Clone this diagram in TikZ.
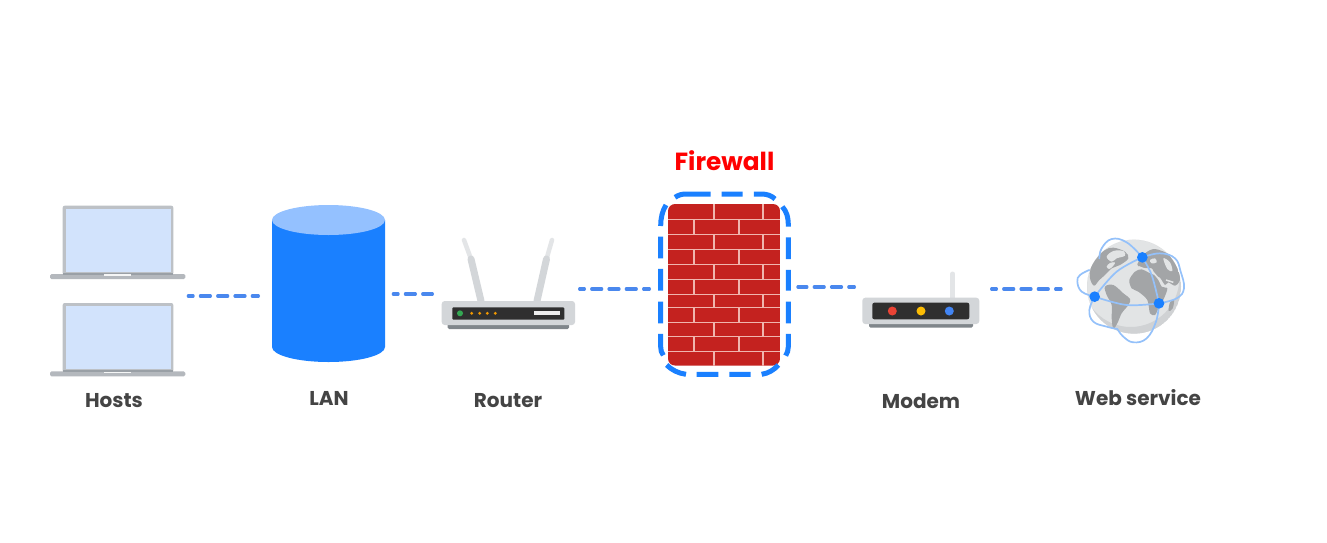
\documentclass[tikz,border=0pt]{standalone}
\usepackage{fontspec}
\setmainfont{Poppins}
\definecolor{linkblue}{HTML}{4A88EE}
\definecolor{fwblue}{HTML}{1A80FF}
\definecolor{lanblue}{HTML}{1A80FF}
\definecolor{lantop}{HTML}{94C1FF}
\definecolor{lidgray}{HTML}{BDC1C6}
\definecolor{basegray}{HTML}{B4B8BD}
\definecolor{hinge}{HTML}{9AA0A6}
\definecolor{screen}{HTML}{D2E3FC}
\definecolor{bodygray}{HTML}{D3D6D9}
\definecolor{antlight}{HTML}{E3E5E7}
\definecolor{basedark}{HTML}{80868B}
\definecolor{panel}{HTML}{2F2F2F}
\definecolor{brick}{HTML}{C4221F}
\definecolor{mortar}{HTML}{F0B5AE}
\definecolor{txt}{HTML}{444444}
\definecolor{globe}{HTML}{E2E4E5}
\definecolor{globedark}{HTML}{D0D2D4}
\definecolor{land}{HTML}{A3A5A7}
\definecolor{orbit}{HTML}{94C1FA}
\definecolor{ledgreen}{HTML}{34A853}
\definecolor{ledorange}{HTML}{F29900}
\definecolor{ledred}{HTML}{EA4335}
\definecolor{ledyellow}{HTML}{FBBC04}
\definecolor{ledblue}{HTML}{4285F4}
\tikzset{
  link/.style={draw=linkblue,line width=3.2pt,line cap=round,dash pattern=on 10pt off 7.3pt,dash phase=#1},
  link/.default=5.2pt,
  lbl/.style={font=\fontsize{20}{22}\selectfont\bfseries,text=txt,inner sep=0pt},
  laptop/.pic={
    \fill[lidgray,rounded corners=2pt] (62.7,205.7) rectangle (173.3,275);
    \fill[screen] (66,209) rectangle (170.7,271.5);
    \fill[hinge] (62.7,272.5) rectangle (173.3,274.5);
    \fill[basegray,rounded corners=1.5pt] (50,274) rectangle (185.3,279);
    \fill[hinge] (62.7,274) rectangle (173.3,275);
    \fill[white!85!lidgray] (104,274.3) rectangle (130.7,275.8);
  },
  antenna/.style={line cap=round,line width=#1},
  globezoom/.style={shift={(1060,225)},x=0.3333pt,y=-0.3333pt},
  fwzoom/.style={shift={(640,180)},x=0.3333pt,y=-0.3333pt},
  orbitline/.style={draw=orbit,line width=1.7pt,line cap=round}
}
\begin{document}
\begin{tikzpicture}[x=1pt,y=-1pt]
\useasboundingbox (0,0) rectangle (1327,542);
\fill[white] (0,0) rectangle (1327,542);
% Hosts
\pic at (0,0) {laptop};
\pic at (0,97.3) {laptop};
\node[lbl] (hosts) at (114,401) {Hosts};
% LAN
\fill[lanblue] (272,220) -- (272,347) arc[start angle=180,end angle=0,x radius=56.5,y radius=15] -- (385,220) -- cycle;
\fill[lantop] (328.5,220) ellipse[x radius=56.5,y radius=15];
\node[lbl] (lan) at (329,398) {LAN};
% Router
\draw[antlight,antenna=4.5pt] (464,240) -- (471,259);
\draw[bodygray,antenna=7pt] (471,259) -- (481,301);
\draw[antlight,antenna=4.5pt] (552,240) -- (546.5,259);
\draw[bodygray,antenna=7pt] (546.5,259) -- (537,301);
\fill[basedark,rounded corners=1.5pt] (447.7,322) rectangle (569,329);
\fill[bodygray,rounded corners=3pt] (441.7,301) rectangle (575,325);
\fill[panel,rounded corners=1pt] (452.3,307.3) rectangle (564.3,319.7);
\fill[ledgreen] (460,313.3) circle[radius=3];
\foreach \x in {471.7,479.7,487.3,495.3} \fill[ledorange] (\x,313.3) circle[radius=1.6];
\fill[white!93!black] (533.7,311.3) rectangle (560,315);
\node[lbl] (router) at (508,401) {Router};
% Firewall
\node[font=\fontsize{24.8}{26}\selectfont\bfseries,text=red,inner sep=0pt] (fwlabel) at (724.5,161) {Firewall};
\begin{scope}
\clip[rounded corners=7pt] (668,204) rectangle (780,365.5);
\fill[brick] (668,204) rectangle (780,366);
\foreach \y in {219,234,249,264,279,294,307,322,336,351}
  \draw[mortar,line width=1pt] (668,\y) -- (780,\y);
\foreach \ya/\yb in {204/219,234/249,264/279,294/307,322/336,351/366}
  \foreach \x in {714,763} \draw[mortar,line width=1.1pt] (\x,\ya) -- (\x,\yb);
\foreach \ya/\yb in {219/234,249/264,279/294,307/322,336/351}
  \foreach \x in {694,739} \draw[mortar,line width=1.1pt] (\x,\ya) -- (\x,\yb);
\end{scope}
\begin{scope}[fwzoom]
\draw[fwblue,line width=5pt]
  (105,52) .. controls (115,45) and (125,42) .. (140,42) -- (212,42)
  (245,42) -- (308,42)
  (342,42) -- (365,42) .. controls (380,42) and (395,47) .. (405,57)
  (427,80) .. controls (440,95) and (445,110) .. (445,140)
  (445,172) -- (445,237)
  (445,270) -- (445,332)
  (445,365) -- (445,430)
  (445,462) -- (445,500) .. controls (445,510) and (442,520) .. (437,527)
  (415,555) .. controls (402,570) and (385,580) .. (365,583)
  (332,583) -- (268,583)
  (235,583) -- (170,583)
  (138,583) .. controls (115,580) and (95,570) .. (80,555)
  (70,526) .. controls (64,518) and (62,510) .. (62,500) -- (62,462)
  (62,430) -- (62,365)
  (62,332) -- (62,267)
  (62,235) -- (62,170)
  (62,138) .. controls (62,115) and (67,92) .. (78,75);
\end{scope}
% Modem
\draw[antlight,line width=5pt,line cap=round] (952.7,274) -- (952.7,298);
\fill[basedark,rounded corners=1.5pt] (869,321) rectangle (973,327.7);
\fill[bodygray,rounded corners=3pt] (862.3,297.7) rectangle (979.3,324);
\fill[panel,rounded corners=2pt] (872.3,302.7) rectangle (969.3,319.3);
\fill[ledred] (892.3,311) circle[radius=4.5];
\fill[ledyellow] (921,311) circle[radius=4.5];
\fill[ledblue] (949.3,311) circle[radius=4.5];
\node[lbl] (modem) at (921,401) {Modem};
% Web service
\begin{scope}[globezoom]
\fill[globe] (222,185) circle[radius=141];
\begin{scope}
\clip (222,185) circle[radius=141];
\fill[globedark,even odd rule] (222,185) circle[radius=141] (212,160) circle[radius=146];
\fill[land] plot[smooth cycle,tension=0.6] coordinates {(110,100)(135,75)(160,68)(195,80)(205,100)(180,120)(155,130)(135,150)(118,165)(102,182)(90,160)(92,130)};
\fill[globe] plot[smooth cycle,tension=0.6] coordinates {(140,95)(160,78)(190,78)(195,92)(170,100)(155,110)};
\fill[globe] plot[smooth cycle,tension=0.6] coordinates {(140,125)(150,114)(165,112)(160,122)(148,132)};
\fill[land] plot[smooth cycle,tension=0.6] coordinates {(135,185)(160,180)(190,205)(210,222)(205,240)(185,265)(172,295)(160,310)(155,280)(155,240)(140,210)};
\fill[land] plot[smooth cycle,tension=0.5] coordinates {(208,165)(225,140)(245,133)(270,145)(290,155)(305,185)(322,190)(312,220)(295,250)(285,270)(270,265)(262,225)(235,200)(215,190)};
\fill[land] plot[smooth cycle,tension=0.5] coordinates {(255,85)(285,72)(330,90)(352,125)(360,165)(345,182)(325,172)(315,180)(300,158)(285,150)(275,130)(245,130)(232,118)};
\draw[globe,line width=1.5pt] (235,125) .. controls (255,135) and (270,130) .. (285,148);
\draw[globe,line width=1.5pt] (285,148) -- (310,180);
\draw[globe,line width=1.5pt] (318,165) -- (340,172);
\fill[globe] plot[smooth cycle,tension=0.6] coordinates {(310,100)(330,112)(337,138)(322,132)};
\fill[globe] plot[smooth cycle,tension=0.6] coordinates {(270,105)(285,100)(290,112)(275,115)};
\fill[land] plot[smooth cycle,tension=0.6] coordinates {(330,232)(342,225)(338,250)(326,258)};
\end{scope}
\draw[orbitline] plot[smooth,tension=0.6] coordinates {(104,215)(170,140)(247,97)};
\draw[orbitline] plot[smooth,tension=0.6] coordinates {(247,97)(275,150)(297,235)};
\draw[orbitline] plot[smooth,tension=0.6] coordinates {(104,215)(200,240)(297,235)};
\draw[orbitline] plot[smooth,tension=0.7] coordinates {(88,135)(60,150)(52,170)(65,200)(104,215)};
\draw[orbitline] plot[smooth,tension=0.7] coordinates {(118,100)(125,70)(155,42)(200,52)(247,97)};
\draw[orbitline] plot[smooth,tension=0.7] coordinates {(247,97)(300,85)(345,100)(362,140)(372,190)(350,220)(297,235)};
\draw[orbitline] plot[smooth,tension=0.7] coordinates {(104,215)(88,255)(100,290)(140,305)(172,312)};
\draw[orbitline] plot[smooth,tension=0.7] coordinates {(297,235)(288,290)(260,340)(220,352)(190,335)(172,312)};
\fill[fwblue] (247,97) circle[radius=16];
\fill[fwblue] (104,215) circle[radius=16];
\fill[fwblue] (297,235) circle[radius=16];
\end{scope}
\node[lbl] (web) at (1138,398) {Web service};
% connectors
\coordinate (l1a) at (188.3,296); \coordinate (l1b) at (258.4,296);
\coordinate (l2a) at (393.3,294); \coordinate (l2b) at (432.4,294);
\coordinate (l3a) at (579.6,289); \coordinate (l3b) at (649.4,289);
\coordinate (l4a) at (797.9,287); \coordinate (l4b) at (854.4,287);
\coordinate (l5a) at (991.6,289); \coordinate (l5b) at (1061.1,289);
\draw[link] (l1a) -- (l1b);
\draw[link] (l2a) -- (l2b);
\draw[link] (l3a) -- (l3b);
\draw[link=1pt] (l4a) -- (l4b);
\draw[link] (l5a) -- (l5b);
\end{tikzpicture}
\end{document}
